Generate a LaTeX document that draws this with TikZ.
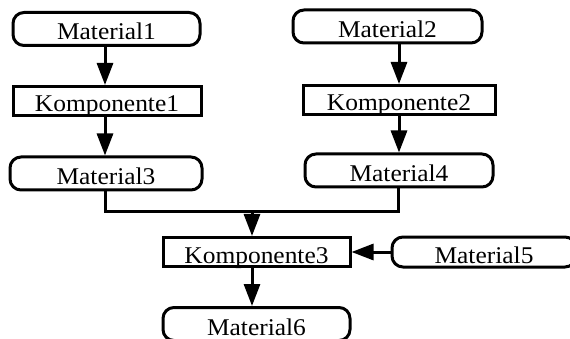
\documentclass[tikz,border=0pt]{standalone}
\usepackage{fontspec}
\setmainfont{Liberation Serif}[FakeStretch=1.06]
\usetikzlibrary{arrows.meta}

\begin{document}
\begin{tikzpicture}[x=1pt, y=-1pt,
    blocco/.style={draw, line width=3pt, inner sep=0pt, text height=22pt, text depth=0pt, font=\fontsize{24}{26}\selectfont},
    materiale/.style={blocco, rounded corners=11pt, minimum height=33pt},
    componente/.style={blocco, minimum height=29pt},
    freccia/.style={line width=3pt, -{Triangle[length=22pt, width=16pt]}}]
    \useasboundingbox (0, 0) rectangle (570, 339);
    %materiali
    \node[materiale, minimum width=187pt] (m1) at (106.5, 29) {Material1};
    \node[materiale, minimum width=189pt] (m2) at (387.5, 26.5) {Material2};
    \node[materiale, minimum width=192pt] (m3) at (106, 173.5) {Material3};
    \node[materiale, minimum width=188pt] (m4) at (399, 170.5) {Material4};
    \node[materiale, minimum width=184pt, minimum height=30pt] (m5) at (484, 252) {Material5};
    \node[materiale, minimum width=187pt] (m6) at (256.5, 324) {Material6};
    %componenti
    \node[componente, minimum width=188pt] (k1) at (107, 101) {Komponente1};
    \node[componente, minimum width=192pt] (k2) at (399, 100) {Komponente2};
    \node[componente, minimum width=187pt] (k3) at (256.5, 252) {Komponente3};
    %frecce
    \coordinate (giunto) at (252, 212);
    \draw[freccia] (m1.south -| 105, 0) -- (k1.north -| 105, 0);
    \draw[freccia] (k1.south -| 105, 0) -- (m3.north -| 105, 0);
    \draw[freccia] (m2.south -| k2.north) -- (k2.north);
    \draw[freccia] (k2.south) -- (m4.north);
    \draw[line width=3pt] (m3.south -| 105, 0) |- (giunto) -| (m4.south -| 398, 0);
    \draw[freccia] (giunto) -- (k3.north -| giunto);
    \draw[freccia] (m5.west) -- (k3.east);
    \draw[freccia] (k3.south -| giunto) -- (m6.north -| giunto);
\end{tikzpicture}
\end{document}
